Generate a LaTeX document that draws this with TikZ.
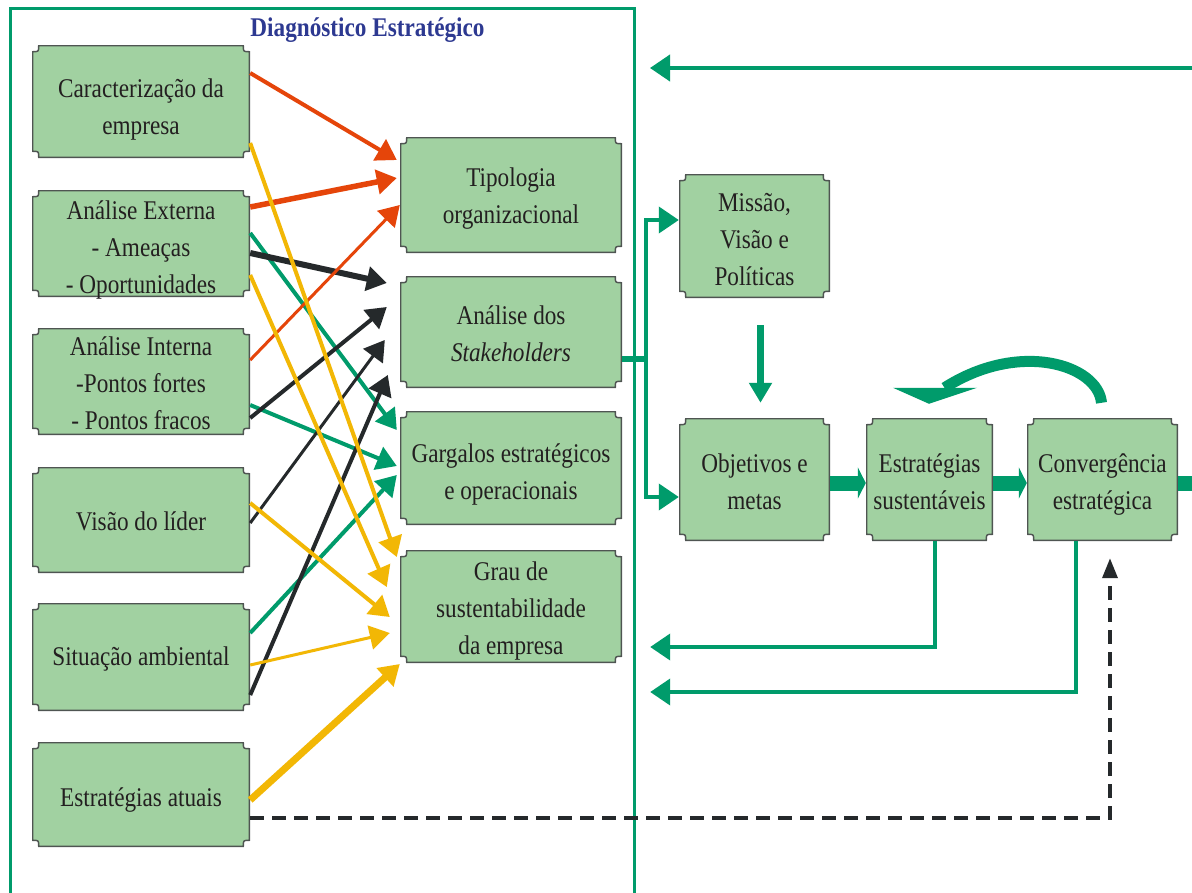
\documentclass[tikz,border=0pt]{standalone}
\usepackage{fontspec}
\setmainfont{Liberation Serif}[FakeStretch=0.86]
\usetikzlibrary{arrows.meta,calc}

\definecolor{cBox}{HTML}{A1D1A1}
\definecolor{cEdge}{HTML}{4F5552}
\definecolor{cInk}{HTML}{231F20}
\definecolor{cGreen}{HTML}{009B6B}
\definecolor{cRed}{HTML}{E5450A}
\definecolor{cYellow}{HTML}{F2B705}
\definecolor{cBlack}{HTML}{25292B}
\definecolor{cNavy}{HTML}{2D3991}

% centred lines with a fixed 37pt pitch, taking no room of their own;
% the optional argument lowers the block (pt)
\newsavebox{\linesbox}
\newlength{\lineslift}
\newcommand{\boxlines}[2][0]{%
  \sbox{\linesbox}{\begin{tabular}{@{}c@{}}#2\end{tabular}}%
  \setlength{\lineslift}{\dimexpr(\dp\linesbox-\ht\linesbox)/2-#1pt\relax}%
  \raisebox{\lineslift}[0pt][0pt]{\usebox{\linesbox}}}

\tikzset{
  % box with small concave corners, painted inside the node's own rectangle
  notchbox/.style={
    inner sep=0pt, text=cInk,
    font=\fontsize{27}{37}\selectfont,
    path picture={
      \filldraw[fill=cBox, draw=cEdge, line width=1.4pt]
        let \p1=(path picture bounding box.north west),
            \p2=(path picture bounding box.south east) in
        ({\x1+6.7pt},{\y1-0.7pt}) -- ({\x2-6.7pt},{\y1-0.7pt})
        .. controls ({\x2-6.7pt},{\y1-6.7pt}) .. ({\x2-0.7pt},{\y1-6.7pt})
        -- ({\x2-0.7pt},{\y2+6.7pt})
        .. controls ({\x2-6.7pt},{\y2+6.7pt}) .. ({\x2-6.7pt},{\y2+0.7pt})
        -- ({\x1+6.7pt},{\y2+0.7pt})
        .. controls ({\x1+6.7pt},{\y2+6.7pt}) .. ({\x1+0.7pt},{\y2+6.7pt})
        -- ({\x1+0.7pt},{\y1-6.7pt})
        .. controls ({\x1+6.7pt},{\y1-6.7pt}) .. cycle;
    }},
  lbox/.style={notchbox, minimum width=218pt},
  mbox/.style={notchbox, minimum width=222pt},
  link/.style={-{Triangle[length=20pt,width=24pt]}, line cap=butt},
  glink/.style={cGreen, line width=4pt, -{Triangle[length=20pt,width=26pt]}},
  blockarrow/.style={cGreen, line width=15pt, -{Triangle[length=8pt,width=31pt]}},
  dashlink/.style={cBlack, line width=3.5pt, dash pattern=on 14pt off 8pt,
    -{Triangle[length=20pt,width=15pt]}},
  title/.style={text=cNavy, font=\fontsize{27}{30}\selectfont\bfseries, inner sep=0pt}
}

\begin{document}
\begin{tikzpicture}[x=1pt,y=-1pt]
\fill[white] (0,0) rectangle (1192,892);
\useasboundingbox (0,0) rectangle (1192,892);

% frame of the diagnosis stage
\draw[cGreen, line width=3pt] (10,900) -- (10,8) -- (634,8) -- (634,900);
\node[title, anchor=base] (ttl) at (367.5,36) {Diagnóstico Estratégico};

% inputs
\node[lbox, minimum height=113pt] (car) at (141,101.5) {\boxlines[7]{Caracterização da\\empresa}};
\node[lbox, minimum height=107pt] (ext) at (141,243.5) {\boxlines[6]{Análise Externa\\- Ameaças\\- Oportunidades}};
\node[lbox, minimum height=107pt] (int) at (141,381.5) {\boxlines[4]{Análise Interna\\-Pontos fortes\\- Pontos fracos}};
\node[lbox, minimum height=106pt] (lid) at (141,520) {\boxlines[3]{Visão do líder}};
\node[lbox, minimum height=108pt] (amb) at (141,657) {\boxlines[1]{Situação ambiental}};
\node[lbox, minimum height=105pt] (atu) at (141,794.5) {\boxlines[5]{Estratégias atuais}};

% diagnosis results
\node[mbox, minimum height=116pt] (tip) at (511,195) {\boxlines[3]{Tipologia\\organizacional}};
\node[mbox, minimum height=112pt] (stk) at (511,332) {\boxlines[3.5]{Análise dos\\\textit{Stakeholders}}};
\node[mbox, minimum height=114pt] (gar) at (511,468) {\boxlines[6]{Gargalos estratégicos\\e operacionais}};
\node[mbox, minimum height=113pt] (gra) at (511,606.5) {\boxlines[4]{Grau de\\sustentabilidade\\da empresa}};

% strategy chain
\node[notchbox, minimum width=151pt, minimum height=124pt] (mis) at (754.5,236) {\boxlines[5]{Missão,\\Visão e\\Políticas}};
\node[notchbox, minimum width=151pt, minimum height=123pt] (obj) at (754.5,479.5) {\boxlines[4.5]{Objetivos e\\metas}};
\node[notchbox, minimum width=127pt, minimum height=123pt] (est) at (929.5,479.5) {\boxlines[4.5]{Estratégias\\sustentáveis}};
\node[notchbox, minimum width=151pt, minimum height=123pt] (con) at (1102.5,479.5) {\boxlines[4.5]{Convergência\\estratégica}};

% green crossing links
\draw[link, cGreen, line width=4pt] ($(ext.east)+(0,-10.5)$) -- ($(gar.west)+(-3,-38)$);
\draw[link, cGreen, line width=4pt] ($(int.east)+(0,23.5)$) -- ($(gar.west)+(-3,-2)$);
\draw[link, cGreen, line width=4pt] ($(amb.east)+(0,-24)$) -- ($(gar.west)+(-3,7)$);

% black crossing links
\draw[link, cBlack, line width=6pt] ($(ext.east)+(0,9.5)$) -- ($(stk.west)+(-13,-49)$);
\draw[link, cBlack, line width=4pt] ($(int.east)+(0,36.5)$) -- ($(stk.west)+(-13,-25)$);
\draw[link, cBlack, line width=3pt] ($(lid.east)+(0,3)$) -- ($(stk.west)+(-15,8)$);
\draw[link, cBlack, line width=4pt] ($(amb.east)+(0,38)$) -- ($(stk.west)+(-12,43)$);

% red crossing links
\draw[link, cRed, line width=4pt] ($(car.east)+(0,-28.5)$) -- ($(tip.west)+(-3,-35)$);
\draw[link, cRed, line width=5.5pt] ($(ext.east)+(0,-36.5)$) -- ($(tip.west)+(-3,-17)$);
\draw[link, cRed, line width=3pt] ($(int.east)+(0,-21.5)$) -- ($(tip.west)+(0,10)$);

% yellow crossing links
\draw[link, cYellow, line width=4pt] ($(car.east)+(0,41.5)$) -- ($(gra.west)+(-3,-49.5)$);
\draw[link, cYellow, line width=4pt] ($(ext.east)+(0,31.5)$) -- ($(gra.west)+(-13,-19.5)$);
\draw[link, cYellow, line width=4pt] ($(lid.east)+(0,-17)$) -- ($(gra.west)+(-10,10.5)$);
\draw[link, cYellow, line width=3pt] ($(amb.east)+(0,8)$) -- ($(gra.west)+(-10,26.5)$);
\draw[link, cYellow, line width=7pt] ($(atu.east)+(0,5.5)$) -- ($(gra.west)+(0,57.5)$);

% stakeholders feed the mission and the objectives
\draw[cGreen, line width=6pt] ($(stk.east)+(0,27)$) -- ++(24,0) coordinate (fork);
\draw[glink] (fork) |- ($(mis.west)+(0,-16)$);
\draw[glink] (fork) |- ($(obj.west)+(0,17.5)$);

% block arrows along the chain
\draw[cGreen, line width=7pt, -{Triangle[length=20pt,width=22pt]}]
  ($(mis.south)+(6,27)$) -- ($(obj.north)+(6,-15)$);
\draw[blockarrow] ($(obj.east)+(0,3.5)$) -- ($(est.west)+(0,3.5)$);
\draw[blockarrow] ($(est.east)+(0,3.5)$) -- ($(con.west)+(0,3.5)$);
\coordinate (outR) at (1192,483);
\draw[cGreen, line width=15pt] ($(con.east)+(0,3.5)$) -- (outR);

% loop from convergence back to the strategies
\draw[cGreen, line width=11pt]
  ($(con.north)+(-1,-15)$) .. controls ($(con.north)+(-4.5,-53)$) and ($(est.north)+(90,-78)$) .. ($(est.north)+(15,-30)$);
\fill[cGreen] ($(est.north)+(-36.5,-30)$) -- ($(est.north)+(47.5,-30)$) -- ($(est.north)+(-0.5,-14)$) -- cycle;

% feedback into the diagnosis
\coordinate (fbIn) at (1192,68);
\coordinate (fbOut) at (650,68);
\draw[glink] (fbIn) -- (fbOut);
\draw[glink] ($(est.south)+(5.5,0)$) |- ($(gra.east)+(28,40.5)$);
\draw[glink] ($(con.south)+(-26.5,0)$) |- ($(gra.east)+(28,85.5)$);

% current strategies checked against convergence
\draw[dashlink] ($(atu.east)+(0,23.5)$) -| ($(con.south)+(7.5,17)$);
\end{tikzpicture}
\end{document}
